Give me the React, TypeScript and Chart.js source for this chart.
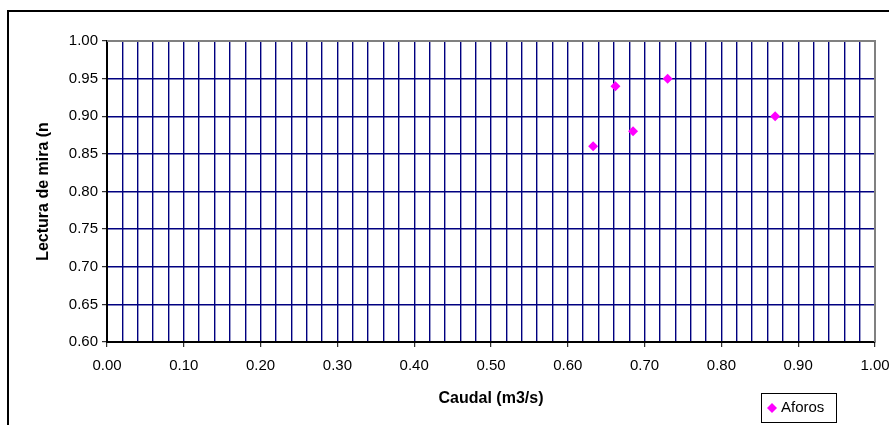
import React, { useEffect, useRef } from "react";
import { Chart, registerables } from "chart.js";

Chart.register(...registerables);

const caudal = [0.633, 0.662, 0.685, 0.73, 0.87];
const lectura = [0.86, 0.94, 0.88, 0.95, 0.9];
const seriesLabel = "Aforos";
const xTitle = "Caudal (m3/s)";
const yTitle = "Lectura de mira (n";
const xMin = 0, xMax = 1, xMinorStep = 0.02, xMajorStep = 0.1;
const yMin = 0.6, yMax = 1.0, yStep = 0.05;

const FONT = "'Liberation Sans', Arial, sans-serif";
const W = 889, H = 425;

const isMajorX = (v: number) => Math.abs(v / xMajorStep - Math.round(v / xMajorStep)) < 1e-6;

const framePlugin = {
  id: "frame",
  afterDraw(chart: any) {
    const { ctx, chartArea } = chart;
    ctx.save();
    // plot-area gray border (top & right)
    ctx.strokeStyle = "#808080";
    ctx.lineWidth = 2;
    ctx.beginPath();
    ctx.moveTo(chartArea.left, chartArea.top);
    ctx.lineTo(chartArea.right, chartArea.top);
    ctx.lineTo(chartArea.right, chartArea.bottom);
    ctx.stroke();
    // outer chart border
    ctx.strokeStyle = "#000";
    ctx.lineWidth = 2;
    ctx.strokeRect(8, 11, W + 20, H + 20);
    // legend box
    const ds = chart.data.datasets[0];
    const bx = 761, by = 393, bw = 75, bh = 29;
    ctx.lineWidth = 1;
    ctx.strokeStyle = "#000";
    ctx.fillStyle = "#fff";
    ctx.fillRect(bx, by, bw, bh);
    ctx.strokeRect(bx + 0.5, by + 0.5, bw, bh);
    const cx = 772, cy = by + bh / 2 + 0.5;
    ctx.fillStyle = ds.backgroundColor;
    ctx.beginPath();
    ctx.moveTo(cx, cy - 5);
    ctx.lineTo(cx + 5, cy);
    ctx.lineTo(cx, cy + 5);
    ctx.lineTo(cx - 5, cy);
    ctx.closePath();
    ctx.fill();
    ctx.fillStyle = "#000";
    ctx.font = `15px ${FONT}`;
    ctx.textBaseline = "middle";
    ctx.textAlign = "left";
    ctx.fillText(ds.label, 781, cy);
    ctx.restore();
  },
};

export default function App() {
  const ref = useRef<HTMLCanvasElement>(null);
  useEffect(() => {
    if (!ref.current) return;
    const chart = new Chart(ref.current, {
      type: "scatter",
      data: {
        datasets: [
          {
            label: seriesLabel,
            data: caudal.map((x, i) => ({ x, y: lectura[i] })),
            backgroundColor: "#FF00FF",
            borderColor: "#FF00FF",
            pointStyle: "rectRot",
            pointRadius: 5,
            pointBorderWidth: 0,
          },
        ],
      },
      options: {
        responsive: false,
        animation: false,
        devicePixelRatio: 1,
        layout: { padding: { left: 0, top: 41, right: 14, bottom: 0 } },
        plugins: { legend: { display: false }, tooltip: { enabled: false } },
        scales: {
          x: {
            type: "linear",
            min: xMin,
            max: xMax,
            afterFit: (s: any) => {
              s.height = H - 342;
              s.paddingLeft = 0;
              s.paddingRight = 0;
            },
            ticks: {
              stepSize: xMinorStep,
              autoSkip: false,
              maxRotation: 0,
              minRotation: 0,
              padding: 10,
              color: "#000",
              font: { family: FONT, size: 15 },
              callback: (v: any) => (isMajorX(Number(v)) ? Number(v).toFixed(2) : ""),
            },
            grid: {
              color: "#000080",
              lineWidth: 1.4,
              tickLength: 5,
              tickColor: (c: any) => (c.tick && isMajorX(c.tick.value) ? "#000" : "rgba(0,0,0,0)"),
              tickWidth: 1,
            },
            border: { color: "#000", width: 2 },
            title: {
              display: true,
              text: xTitle,
              color: "#000",
              font: { family: FONT, size: 16, weight: "bold" },
              padding: { top: 0, bottom: 17 },
            },
          },
          y: {
            type: "linear",
            min: yMin,
            max: yMax,
            afterFit: (s: any) => {
              s.width = 107;
              s.paddingTop = 0;
              s.paddingBottom = 0;
            },
            ticks: {
              stepSize: yStep,
              padding: 4,
              color: "#000",
              font: { family: FONT, size: 15 },
              callback: (v: any) => Number(v).toFixed(2),
            },
            grid: {
              color: "#000080",
              lineWidth: 1.4,
              tickLength: 5,
              tickColor: "#000",
              tickWidth: 1,
            },
            border: { color: "#000", width: 2 },
            title: {
              display: true,
              text: yTitle,
              color: "#000",
              font: { family: FONT, size: 16, weight: "bold" },
              padding: { top: 34, bottom: 0 },
            },
          },
        },
      },
      plugins: [framePlugin],
    });
    return () => chart.destroy();
  }, []);
  return (
    <div style={{ position: "absolute", left: 0, top: 0, width: W, height: H, background: "#fff" }}>
      <canvas ref={ref} width={W} height={H} style={{ display: "block", width: W, height: H }} />
    </div>
  );
}
